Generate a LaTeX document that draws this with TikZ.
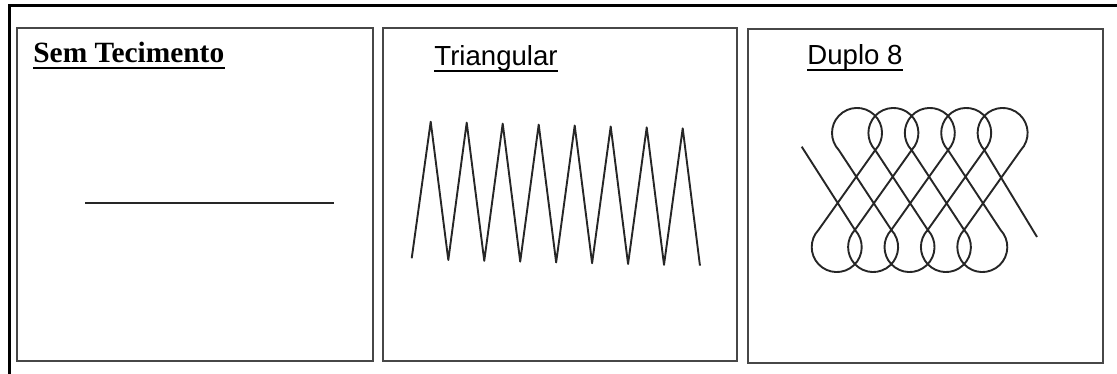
\documentclass[tikz,border=0pt]{standalone}
\usepackage{fontspec}
\setmainfont{Liberation Sans}
\newfontfamily\titleserif{Liberation Serif}
\usepackage{tikz}

\begin{document}
\begin{tikzpicture}[x=0.5pt, y=-0.5pt,
    panel/.style={draw=black!72, line width=1.1pt},
    stitch/.style={draw=black!85, line width=0.95pt, line join=round},
    sanstitle/.style={anchor=base west, inner sep=0pt, font=\fontsize{13.8pt}{16pt}\selectfont},
    seriftitle/.style={anchor=base west, inner sep=0pt, font=\titleserif\bfseries\fontsize{14.7pt}{17pt}\selectfont}]
  \useasboundingbox (0,0) rectangle (1117,374);
  % outer frame (only top and left are in view)
  \draw[line width=1.5pt] (9,374) -- (9,6) -- (1117,6);
  % Sem Tecimento
  \draw[panel] (17,28) rectangle (373,361);
  \node[seriftitle] (semTit) at (33,63) {Sem Tecimento};
  \draw[line width=0.85pt] ([yshift=-2.4pt]semTit.base west) -- ([yshift=-2.4pt]semTit.base east);
  \draw[stitch] (85,203) -- (334,203);
  % Triangular
  \draw[panel] (383,28) rectangle (737,361);
  \node[sanstitle] (triTit) at (434,66) {Triangular};
  \draw[line width=0.85pt] ([yshift=-2.4pt]triTit.base west) -- ([yshift=-2.4pt]triTit.base east);
  \draw[stitch] (411.7,258.3)
    \foreach \i in {0,...,7} { -- ({430.7+36*\i},{121.7+0.95*\i}) -- ({448.3+35.95*\i},{260+0.8*\i}) };
  % Duplo 8
  \draw[panel] (748,29) rectangle (1103,363);
  \node[sanstitle] (dupTit) at (807,65) {Duplo 8};
  \draw[line width=0.85pt] ([yshift=-2.6pt]dupTit.base west) -- ([yshift=-2.6pt]dupTit.base east);
  \draw[stitch] (801.7,146.7)
    \foreach \k in {0,...,4} {
      -- ({854.9+36.4*\k},229.9) arc[start angle=-43.3, end angle=223.3, radius=25]
      -- ({875.2+36.4*\k},150.1) arc[start angle=43.3, end angle=-223.3, radius=25] }
    -- (1037,237);
\end{tikzpicture}
\end{document}
